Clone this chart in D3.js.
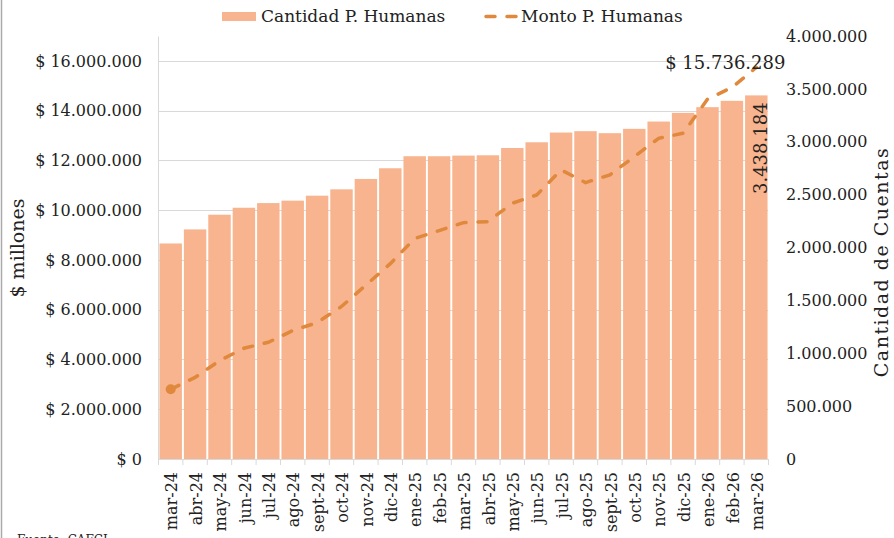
<!DOCTYPE html>
<html>
<head>
<meta charset="utf-8">
<script src="https://cdn.jsdelivr.net/npm/d3@7"></script>
<style>
  body { margin: 0; background: #fff; }
  text { font-family: "DejaVu Serif", serif; fill: #222; }
</style>
</head>
<body>
<div id="container"></div>
<script>
/* DATA */
const months = ["mar-24","abr-24","may-24","jun-24","jul-24","ago-24","sept-24","oct-24","nov-24","dic-24",
  "ene-25","feb-25","mar-25","abr-25","may-25","jun-25","jul-25","ago-25","sept-25","oct-25","nov-25","dic-25",
  "ene-26","feb-26","mar-26"];

// Cantidad de cuentas (bars, right axis)
const cuentas = [2038000, 2171000, 2310000, 2376000, 2420000, 2443000, 2490000, 2550000, 2648000, 2749000,
  2863000, 2863000, 2869000, 2872000, 2941000, 2995000, 3087000, 3100000, 3081000, 3122000, 3191000, 3273000,
  3327000, 3387000, 3438184];

// Monto en $ millones (line, left axis)
const montos = [2800000, 3280000, 3950000, 4450000, 4690000, 5160000, 5480000, 6130000, 6990000, 7850000,
  8860000, 9180000, 9500000, 9540000, 10280000, 10610000, 11620000, 11110000, 11420000, 12150000, 12890000, 13090000,
  14460000, 14930000, 15736289];

const leftTicks = [0, 2e6, 4e6, 6e6, 8e6, 10e6, 12e6, 14e6, 16e6];
const rightTicks = [0, 5e5, 1e6, 1.5e6, 2e6, 2.5e6, 3e6, 3.5e6, 4e6];

/* CONSTANTS */
const width = 894, height = 538;
const margin = { top: 36, bottom: 79, left: 158, right: 126 };
const barColor = "#F7B48E", lineColor = "#E0893D", gridColor = "#d9d9d9";

const fmt = d3.formatLocale({ decimal: ",", thousands: ".", grouping: [3], currency: ["$ ", ""] });
const num = fmt.format(",.0f");

const svg = d3.select("#container")
  .append("svg")
  .attr("width", width)
  .attr("height", height);

// frame line on left edge
svg.append("line")
  .attr("x1", 1.5).attr("x2", 1.5).attr("y1", 0).attr("y2", height)
  .attr("stroke", "#aaa").attr("stroke-width", 1.5);

// SCALES
const x = d3.scaleBand()
  .domain(months)
  .range([margin.left + 0.5, width - margin.right + 0.5])
  .paddingInner(0.08)
  .paddingOuter(0.04);

const yLeft = d3.scaleLinear()
  .domain([0, 17e6])
  .range([height - margin.bottom, margin.top]);

const yRight = d3.scaleLinear()
  .domain([0, 4e6])
  .range([height - margin.bottom, margin.top]);

// GRIDLINES
svg.append("g")
  .selectAll("line")
  .data(leftTicks.slice(1))
  .join("line")
  .attr("x1", margin.left)
  .attr("x2", width - margin.right)
  .attr("y1", d => Math.round(yLeft(d)) + 0.5)
  .attr("y2", d => Math.round(yLeft(d)) + 0.5)
  .attr("stroke", gridColor);

// BARS
svg.append("g")
  .selectAll("rect")
  .data(cuentas)
  .join("rect")
  .attr("x", (d, i) => x(months[i]))
  .attr("width", x.bandwidth())
  .attr("y", d => yRight(d))
  .attr("height", d => yRight(0) - yRight(d))
  .attr("fill", barColor);

// LEFT AXIS
const gLeft = svg.append("g")
  .attr("transform", `translate(${margin.left},0)`)
  .call(d3.axisLeft(yLeft).tickValues(leftTicks).tickSize(0).tickPadding(16)
    .tickFormat(d => d === 0 ? "$ 0" : "$ " + num(d)));
gLeft.select(".domain").attr("stroke", gridColor);
gLeft.selectAll("text").style("font-size", "16px").style("font-family", "DejaVu Serif");

// RIGHT AXIS
const gRight = svg.append("g")
  .attr("transform", `translate(${width - margin.right},0)`)
  .call(d3.axisRight(yRight).tickValues(rightTicks).tickSize(0).tickPadding(18)
    .tickFormat(d => num(d)));
gRight.select(".domain").remove();
gRight.selectAll("text").style("font-size", "16px").style("font-family", "DejaVu Serif");

// BOTTOM AXIS
const base = yLeft(0);
svg.append("line")
  .attr("x1", margin.left).attr("x2", width - margin.right)
  .attr("y1", base + 0.5).attr("y2", base + 0.5)
  .attr("stroke", gridColor);
svg.append("g")
  .selectAll("line")
  .data(d3.range(months.length + 1))
  .join("line")
  .attr("x1", i => margin.left + 0.5 + i * x.step())
  .attr("x2", i => margin.left + 0.5 + i * x.step())
  .attr("y1", base)
  .attr("y2", base + 6)
  .attr("stroke", gridColor);

svg.append("g")
  .selectAll("text")
  .data(months)
  .join("text")
  .attr("transform", d => `translate(${x(d) + x.bandwidth() / 2 + 1},${base + 13}) rotate(-90)`)
  .attr("dy", "0.35em")
  .attr("text-anchor", "end")
  .style("font-size", "16px")
  .text(d => d);

// LINE
const line = d3.line()
  .x((d, i) => x(months[i]) + x.bandwidth() / 2)
  .y(d => yLeft(d));

svg.append("path")
  .datum(montos)
  .attr("d", line)
  .attr("fill", "none")
  .attr("stroke", lineColor)
  .attr("stroke-width", 3.5)
  .attr("stroke-linecap", "round")
  .attr("stroke-dasharray", "9,12");

svg.append("circle")
  .attr("cx", x(months[0]) + x.bandwidth() / 2)
  .attr("cy", yLeft(montos[0]))
  .attr("r", 5)
  .attr("fill", lineColor);

// DATA LABELS
const last = months.length - 1;
svg.append("text")
  .attr("x", x(months[last]) + x.bandwidth() / 2 - 31)
  .attr("y", 69)
  .attr("text-anchor", "middle")
  .style("font-size", "18px")
  .text("$ " + num(montos[last]));

svg.append("text")
  .attr("transform", `translate(${x(months[last]) + x.bandwidth() - 1},${yRight(cuentas[last]) + 7}) rotate(-90)`)
  .attr("text-anchor", "end")
  .style("font-size", "18px")
  .text(num(cuentas[last]));

// AXIS TITLES
svg.append("text")
  .attr("transform", `translate(24,248) rotate(-90)`)
  .attr("text-anchor", "middle")
  .style("font-size", "19px")
  .text("$ millones");

svg.append("text")
  .attr("transform", `translate(888,262) rotate(-90)`)
  .attr("text-anchor", "middle")
  .style("font-size", "19px")
  .style("letter-spacing", "1.5px")
  .text("Cantidad de Cuentas");

// LEGEND
const legend = svg.append("g");
legend.append("rect")
  .attr("x", 222).attr("y", 12).attr("width", 34).attr("height", 9)
  .attr("fill", barColor);
legend.append("text")
  .attr("x", 261).attr("y", 22)
  .style("font-size", "17px")
  .text("Cantidad P. Humanas");
legend.append("line")
  .attr("x1", 486).attr("x2", 520).attr("y1", 16.5).attr("y2", 16.5)
  .attr("stroke", lineColor).attr("stroke-width", 3.5)
  .attr("stroke-linecap", "round")
  .attr("stroke-dasharray", "9,12");
legend.append("text")
  .attr("x", 521).attr("y", 22)
  .style("font-size", "17px")
  .text("Monto P. Humanas");

// SOURCE (cut off at bottom, as in the original slide)
svg.append("text")
  .attr("x", 17).attr("y", 544)
  .style("font-size", "12px")
  .text("Fuente: CAFCI");
</script>
</body>
</html>
